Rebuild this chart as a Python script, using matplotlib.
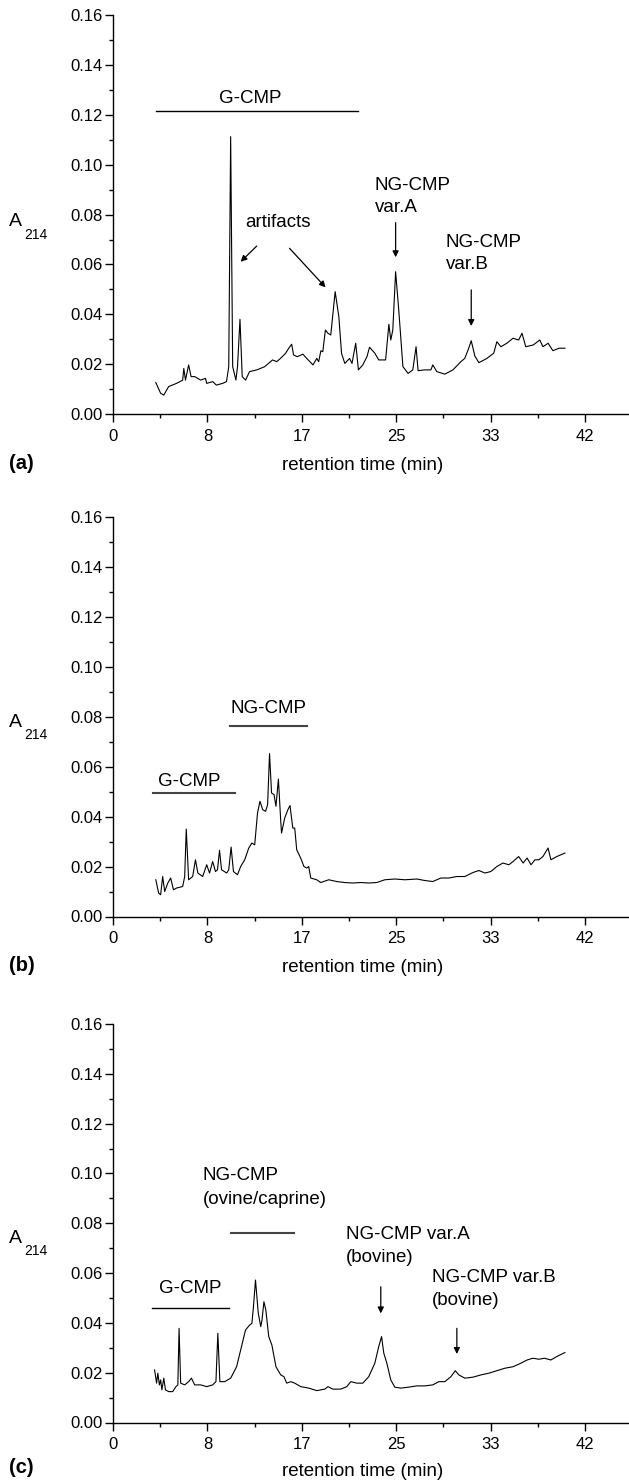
import matplotlib
matplotlib.use("Agg")
import matplotlib.pyplot as plt
import numpy as np

plt.rcParams['font.family'] = ['Liberation Sans', 'DejaVu Sans']

# chromatogram traces: retention time (min), A214
time_a = [3.81, 4.24, 4.52, 4.95, 5.66, 6.2, 6.3, 6.45, 6.73, 6.95, 7.27, 7.8, 8.23, 8.34,
          8.87, 9.2, 9.76, 10.1, 10.3, 10.47, 10.65, 10.94, 11.08, 11.3, 11.5, 11.8, 12.15,
          12.8, 13.5, 14.2, 14.57, 14.9, 15.35, 15.64, 15.9, 16.07, 16.4, 16.9, 17.24, 17.8,
          18.13, 18.3, 18.5, 18.67, 18.9, 19.13, 19.38, 19.77, 20.1, 20.34, 20.63, 21.05,
          21.27, 21.6, 21.84, 22.23, 22.6, 22.83, 23.3, 23.65, 24.26, 24.55, 24.72, 24.9,
          25.15, 25.44, 25.8, 26.26, 26.68, 26.97, 27.15, 27.75, 28.29, 28.46, 28.82, 29.53,
          30.25, 30.96, 31.3, 31.6, 31.88, 32.2, 32.56, 33.27, 33.88, 34.16, 34.52, 35.05,
          35.6, 36.1, 36.4, 36.73, 37.4, 37.98, 38.26, 38.72, 39.15, 39.7, 40.22]
abs_a = [0.0126, 0.0083, 0.0076, 0.011, 0.0123, 0.0136, 0.0183, 0.0136, 0.0197, 0.015, 0.015,
         0.0136, 0.0143, 0.0123, 0.013, 0.0116, 0.0123, 0.013, 0.019, 0.1113, 0.019, 0.0136,
         0.019, 0.038, 0.015, 0.0136, 0.017, 0.0177, 0.019, 0.0217, 0.021, 0.0223, 0.0243,
         0.0264, 0.028, 0.0237, 0.023, 0.024, 0.0223, 0.0197, 0.0223, 0.021, 0.0254, 0.025,
         0.0337, 0.0324, 0.0317, 0.0491, 0.039, 0.0243, 0.0203, 0.0223, 0.0203, 0.0284,
         0.0177, 0.0197, 0.023, 0.0268, 0.0244, 0.0217, 0.0217, 0.036, 0.0297, 0.0337,
         0.0571, 0.0411, 0.019, 0.0163, 0.0177, 0.027, 0.0174, 0.0177, 0.0177, 0.0197, 0.017,
         0.016, 0.0177, 0.021, 0.0223, 0.0257, 0.0294, 0.0233, 0.0206, 0.0223, 0.0244, 0.029,
         0.027, 0.0284, 0.0304, 0.0297, 0.0324, 0.027, 0.0277, 0.0297, 0.027, 0.0284, 0.0254,
         0.0264, 0.0264]

time_b = [3.81, 4.06, 4.24, 4.42, 4.6, 4.88, 5.13, 5.38, 5.66, 6.2, 6.38, 6.52, 6.73, 7.09,
          7.34, 7.55, 7.98, 8.34, 8.59, 8.87, 9.12, 9.3, 9.48, 9.66, 10.12, 10.3, 10.51, 10.72,
          11.08, 11.36, 11.72, 12.08, 12.36, 12.61, 12.86, 13.08, 13.33, 13.58, 13.76, 13.93,
          14.11, 14.33, 14.5, 14.72, 14.93, 15.0, 15.28, 15.57, 15.75, 16.0, 16.17, 16.35, 16.7,
          16.99, 17.24, 17.42, 17.6, 18.13, 18.49, 19.2, 19.9, 20.6, 21.34, 22.05, 22.76,
          23.48, 24.19, 25.08, 25.97, 27.04, 27.75, 28.46, 29.18, 29.89, 30.6, 31.31, 32.03,
          32.56, 33.1, 33.63, 34.16, 34.7, 35.23, 35.6, 36.1, 36.5, 36.85, 37.2, 37.55, 37.9,
          38.26, 38.72, 38.97, 39.5, 40.22]
abs_b = [0.0147, 0.0094, 0.0087, 0.016, 0.01, 0.0134, 0.0154, 0.0107, 0.0114, 0.012, 0.016,
         0.035, 0.0147, 0.016, 0.0227, 0.0174, 0.016, 0.0207, 0.0174, 0.022, 0.018, 0.0187,
         0.0265, 0.0187, 0.0174, 0.0187, 0.0278, 0.018, 0.0167, 0.02, 0.0227, 0.0274, 0.0294,
         0.0287, 0.0414, 0.0461, 0.0427, 0.0421, 0.0448, 0.0652, 0.0494, 0.0488, 0.0441,
         0.055, 0.038, 0.0334, 0.0394, 0.0428, 0.0444, 0.0354, 0.0354, 0.0267, 0.0234, 0.02,
         0.0194, 0.02, 0.0154, 0.0147, 0.0136, 0.0147, 0.014, 0.0136, 0.0134, 0.0136, 0.0134,
         0.0136, 0.0147, 0.015, 0.0147, 0.015, 0.0144, 0.014, 0.0154, 0.0154, 0.016, 0.016,
         0.0176, 0.0184, 0.0174, 0.018, 0.02, 0.0214, 0.0207, 0.022, 0.024, 0.0214, 0.0234,
         0.0207, 0.0227, 0.0227, 0.024, 0.0274, 0.0227, 0.024, 0.0254]

time_c = [3.7, 3.88, 3.99, 4.13, 4.24, 4.35, 4.52, 4.67, 4.95, 5.31, 5.6, 5.77, 5.88, 6.02,
          6.38, 6.73, 6.98, 7.27, 7.8, 8.34, 8.87, 9.16, 9.33, 9.51, 9.94, 10.47, 11.0, 11.36,
          11.79, 12.15, 12.36, 12.5, 12.68, 12.93, 13.15, 13.26, 13.43, 13.6, 13.86, 14.14,
          14.5, 14.93, 15.21, 15.46, 15.82, 16.17, 16.71, 17.42, 18.13, 18.85, 19.13, 19.56,
          20.27, 20.81, 21.16, 21.7, 22.23, 22.76, 23.3, 23.65, 23.9, 24.1, 24.37, 24.72,
          25.08, 25.61, 26.32, 27.04, 27.75, 28.46, 29.0, 29.53, 30.07, 30.46, 30.78, 31.31,
          32.03, 32.74, 33.45, 34.16, 34.88, 35.6, 36.3, 36.85, 37.37, 37.9, 38.4, 38.97,
          39.5, 40.22]
abs_c = [0.0211, 0.0158, 0.0198, 0.0151, 0.0171, 0.0131, 0.0178, 0.0131, 0.0124, 0.0124,
         0.0144, 0.0151, 0.0378, 0.0158, 0.0151, 0.0164, 0.0178, 0.0151, 0.0151, 0.0144,
         0.0151, 0.0164, 0.0358, 0.0164, 0.0164, 0.0178, 0.0224, 0.0291, 0.0371, 0.0391,
         0.0398, 0.0465, 0.0572, 0.0438, 0.0385, 0.0411, 0.0485, 0.0452, 0.0345, 0.0311,
         0.0224, 0.0191, 0.0184, 0.0158, 0.0164, 0.0158, 0.0144, 0.0138, 0.0128, 0.0134,
         0.0144, 0.0134, 0.0134, 0.0144, 0.0164, 0.0158, 0.0158, 0.0184, 0.0238, 0.0305,
         0.0345, 0.0278, 0.0238, 0.0171, 0.0142, 0.0138, 0.0142, 0.0147, 0.0147, 0.0151,
         0.0164, 0.0164, 0.0184, 0.0208, 0.0191, 0.0178, 0.0182, 0.0191, 0.0198, 0.0208,
         0.0218, 0.0224, 0.0238, 0.0251, 0.0258, 0.0254, 0.0258, 0.0251, 0.0265, 0.0281]

xtick_pos = [0, 8.4, 16.8, 25.2, 33.6, 42]
xtick_labels = ['0', '8', '17', '25', '33', '42']
ytick_pos = [0.0, 0.02, 0.04, 0.06, 0.08, 0.10, 0.12, 0.14, 0.16]

W, H = 629, 1484
fig = plt.figure(figsize=(W / 100, H / 100), dpi=100)

def px_axes(top, bottom):
    left = 113
    return fig.add_axes([left / W, (H - bottom) / H, (W - left) / W, (bottom - top) / H])

ANN = 13.5

def setup(ax, letter, xlab_y, letter_y, a_y, sub_y):
    ax.set_xlim(0, 45.92)
    ax.set_ylim(0, 0.16)
    for s in ['top', 'right']:
        ax.spines[s].set_visible(False)
    for s in ['left', 'bottom']:
        ax.spines[s].set_linewidth(1.0)
    ax.set_xticks(xtick_pos)
    ax.set_xticklabels(xtick_labels)
    ax.set_xticks([4.2, 12.6, 21.0, 29.4, 37.8], minor=True)
    ax.set_yticks(ytick_pos)
    ax.set_yticklabels(['%.2f' % v for v in ytick_pos])
    ax.set_yticks(np.arange(0.01, 0.16, 0.02), minor=True)
    ax.tick_params(axis='both', which='major', direction='out', length=5.5, width=1.0,
                   labelsize=12)
    ax.tick_params(axis='x', which='major', pad=5)
    ax.tick_params(axis='y', which='major', pad=2)
    ax.tick_params(axis='both', which='minor', direction='out', length=3.2, width=1.0)
    ax.text(0.4845, xlab_y, 'retention time (min)', transform=ax.transAxes,
            ha='center', va='center', fontsize=ANN)
    ax.text(-0.2016, letter_y, letter, transform=ax.transAxes, ha='left', va='center',
            fontsize=14.5, fontweight='bold')
    ax.text(-0.2016, a_y, 'A', transform=ax.transAxes, ha='left', va='center', fontsize=14)
    ax.text(-0.172, sub_y, '214', transform=ax.transAxes, ha='left', va='center', fontsize=10)

def arrow(ax, x0, y0, x1, y1):
    ax.annotate('', xy=(x1, y1), xytext=(x0, y0),
                arrowprops=dict(arrowstyle='-|>', color='black', lw=0.9,
                                mutation_scale=9, shrinkA=0, shrinkB=0))

# (a)
ax = px_axes(15.3, 414)
ax.plot(time_a, abs_a, color='black', lw=0.8)
setup(ax, '(a)', -0.128, -0.123, 0.482, 0.449)
ax.plot([3.81, 21.8], [0.1216, 0.1216], color='black', lw=1.0)
ax.text(12.25, 0.1265, 'G-CMP', ha='center', va='center', fontsize=ANN)
ax.text(14.64, 0.0768, 'artifacts', ha='center', va='center', fontsize=ANN)
arrow(ax, 12.79, 0.0674, 11.36, 0.0611)
arrow(ax, 15.71, 0.0665, 18.92, 0.0508)
ax.text(23.3, 0.0873, 'NG-CMP\nvar.A', ha='left', va='center', fontsize=ANN, linespacing=1.35)
arrow(ax, 25.15, 0.0768, 25.15, 0.0629)
ax.text(29.6, 0.0644, 'NG-CMP\nvar.B', ha='left', va='center', fontsize=ANN, linespacing=1.35)
arrow(ax, 31.88, 0.0498, 31.88, 0.0353)

# (b)
ax = px_axes(516.7, 916.5)
ax.plot(time_b, abs_b, color='black', lw=0.8)
setup(ax, '(b)', -0.127, -0.122, 0.485, 0.453)
ax.plot([10.4, 17.24], [0.0764, 0.0764], color='#444444', lw=1.5)
ax.text(13.86, 0.0831, 'NG-CMP', ha='center', va='center', fontsize=ANN)
ax.plot([3.53, 10.83], [0.0494, 0.0494], color='#444444', lw=1.5)
ax.text(6.8, 0.0541, 'G-CMP', ha='center', va='center', fontsize=ANN)

# (c)
ax = px_axes(1024, 1422.5)
ax.plot(time_c, abs_c, color='black', lw=0.8)
setup(ax, '(c)', -0.124, -0.112, 0.462, 0.43)
ax.text(7.98, 0.0943, 'NG-CMP\n(ovine/caprine)', ha='left', va='center', fontsize=ANN,
        linespacing=1.5)
ax.plot([10.54, 16.1], [0.0761, 0.0761], color='#444444', lw=1.5)
ax.plot([3.46, 10.3], [0.0458, 0.0458], color='black', lw=1.0)
ax.text(6.91, 0.0538, 'G-CMP', ha='center', va='center', fontsize=ANN)
ax.text(20.73, 0.0709, 'NG-CMP var.A\n(bovine)', ha='left', va='center', fontsize=ANN,
        linespacing=1.5)
arrow(ax, 23.83, 0.0545, 23.83, 0.0438)
ax.text(28.4, 0.0537, 'NG-CMP var.B\n(bovine)', ha='left', va='center', fontsize=ANN,
        linespacing=1.5)
arrow(ax, 30.6, 0.0378, 30.6, 0.0275)

fig.savefig('out.png', dpi=100)
